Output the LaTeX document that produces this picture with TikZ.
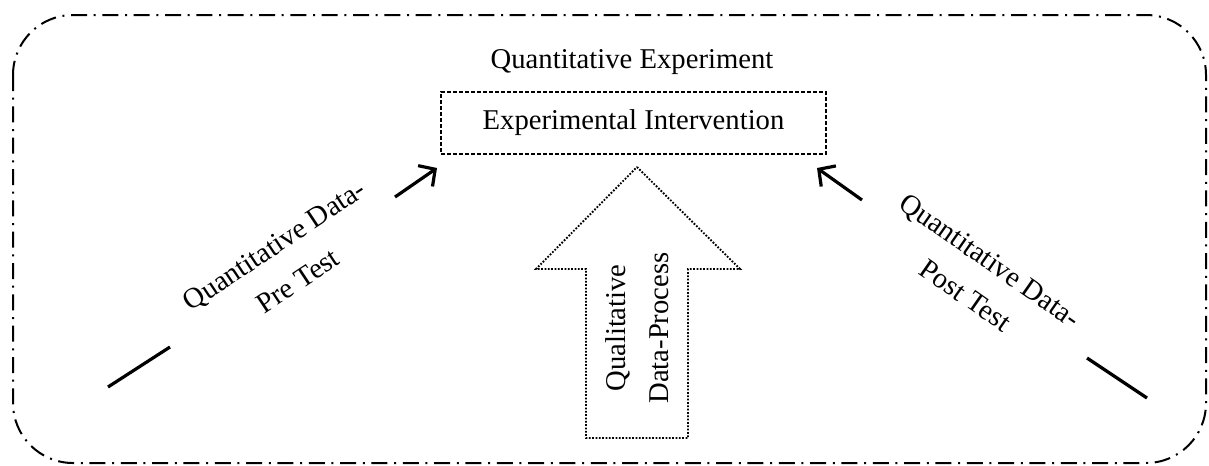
\documentclass[tikz,border=0pt]{standalone}
\usepackage{fontspec}
\setmainfont{Liberation Serif}
\usetikzlibrary{arrows.meta,calc}
\begin{document}
\begin{tikzpicture}[x=0.75pt,y=-0.75pt,
  lbl/.style={font=\fontsize{21.5pt}{32pt}\selectfont, align=center, inner sep=0pt},
  frame/.style={line width=1.5pt, dash pattern=on 12pt off 5pt on 1.5pt off 5pt, rounded corners=45pt},
  ibox/.style={lbl, draw, line width=1.1pt, dash pattern=on 3pt off 1.5pt, minimum width=288.75pt, minimum height=46.5pt},
  dotbox/.style={line width=1.4pt, dash pattern=on 1.3pt off 1.2pt},
  conn/.style={line width=2.4pt},
  connarrow/.style={conn, -{Straight Barb[length=9pt,width=19pt]}}
]
\useasboundingbox (0,0) rectangle (1209,465);
\draw[frame] (13,15) rectangle (1206,463);

\node[lbl] (title) at (632,62) {Quantitative Experiment};
\node[ibox] (box) at (633.5,123) {Experimental Intervention};

\draw[dotbox] (637,167) -- (740,269) -- (688,269) -- (688,438) -- (586,438) -- (586,269) -- (536,269) -- cycle;
\node[lbl, rotate=90] (qual) at (637,328) {Qualitative\\Data-Process};

\node[lbl, rotate=33.6] (pre) at (286,263) {Quantitative Data-\\Pre Test};
\node[lbl, rotate=-34.9] (post) at (978,278) {Quantitative Data-\\Post Test};

\coordinate (preS) at (108,387);
\coordinate (preE) at (170,347);
\coordinate (preA) at (395,197);
\coordinate (preT) at (437,168);
\coordinate (postT) at (817,168);
\coordinate (postA) at (862,200);
\coordinate (postE) at (1087,358);
\coordinate (postS) at (1147,398);

\draw[conn] (preS) -- (preE);
\draw[connarrow] (preA) -- (preT);
\draw[connarrow] (postA) -- (postT);
\draw[conn] (postE) -- (postS);
\end{tikzpicture}
\end{document}
